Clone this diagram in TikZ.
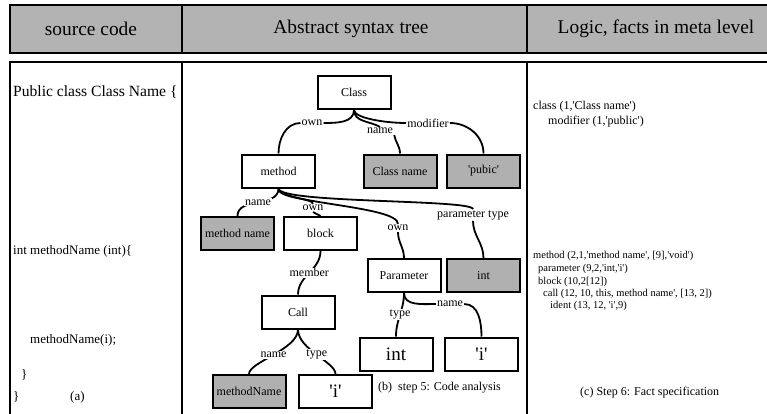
\documentclass[tikz,border=0pt]{standalone}
\usepackage{fontspec}
\setmainfont{Liberation Serif}[Ligatures=TeXOff]
\definecolor{hdrgray}{RGB}{179,179,179}
\definecolor{boxgray}{RGB}{176,176,176}
\begin{document}
\begin{tikzpicture}[x=1pt, y=-1pt,
		frame/.style={draw, line width=2pt},
		tbox/.style={draw, line width=2pt, minimum width=73pt, minimum height=33pt, inner sep=0pt, font=\fontsize{12}{14}\selectfont},
		gbox/.style={tbox, fill=boxgray},
		big/.style={font=\fontsize{19}{22}\selectfont},
		lbl/.style={fill=white, inner sep=1pt, font=\fontsize{12}{14}\selectfont},
		edge/.style={line width=1.8pt},
		head/.style={font=\fontsize{19.4}{23}\selectfont},
		code/.style={anchor=west, inner sep=0pt, font=\fontsize{13}{15}\selectfont},
		fact/.style={anchor=west, inner sep=0pt, font=\fontsize{12}{14}\selectfont},
		small fact/.style={fact, font=\fontsize{10.5}{12}\selectfont}]
		\useasboundingbox (0,0) rectangle (767,413);
		
		% table frame
		\draw[frame, fill=hdrgray] (10,5) rectangle (775,53);
		\draw[frame] (182,5) -- (182,53);
		\draw[frame] (527,5) -- (527,53);
		\draw[frame] (10,420) -- (10,62) -- (775,62);
		\draw[frame] (182,62) -- (182,420);
		\draw[frame] (527,62) -- (527,420);
		
		\node[head] (h1) at (91,29) {source code};
		\node[head] (h2) at (351,29) {Abstract syntax tree};
		\node[head] (h3) at (656,29) {Logic, facts in meta level};
		
		% source code
		\node[code, font=\fontsize{15.6}{18}\selectfont] (c1) at (13,92) {Public class Class Name \{};
		\node[code] (c2) at (13,251) {int methodName (int)\{};
		\node[code] (c3) at (30,340) {methodName(i);};
		\node[code] (c4) at (21,375) {\}};
		\node[code] (c5) at (13,397) {\}};
		\node[code] (ca) at (70,397) {(a)};
		
		% syntax tree
		\node[tbox] (class) at (354,92.5) {Class};
		\node[tbox] (method) at (278.5,171) {method};
		\node[gbox] (cname) at (400,171) {Class name};
		\node[gbox] (pubic) at (483.5,171) {'pubic'};
		\node[gbox] (mname) at (237.5,233.5) {method name};
		\node[tbox] (block) at (320.5,233.5) {block};
		\node[tbox] (param) at (404,275.5) {Parameter};
		\node[gbox] (ptype) at (483.5,275.5) {int};
		\node[tbox] (call) at (298,312) {Call};
		\node[tbox, big] (tint) at (396,354) {int};
		\node[tbox, big] (tid) at (481.5,354) {'i'};
		\node[gbox] (cmname) at (249,391.5) {methodName};
		\node[tbox, big] (cid) at (335.5,391.5) {'i'};
		
		\node[lbl] (own1) at (312,123) {own};
		\node[lbl] (mod1) at (428,123) {modifier};
		\node[lbl] (name1) at (380,131) {name};
		\node[lbl] (own2) at (313,208) {own};
		\node[lbl] (own3) at (398,228) {own};
		\node[lbl] (ptl) at (473,215) {parameter type};
		\node[lbl] (name3) at (450,304) {name};
		
		\draw[edge] (class.south) to[out=-90,in=0] (own1.east);
		\draw[edge] (own1.west) to[out=180,in=90] (method.north);
		\draw[edge] (class.south) to[out=-90,in=180,out distance=8pt] (mod1.west);
		\draw[edge] (mod1.east) to[out=0,in=90] (pubic.north);
		\draw[edge] (class.south) to[out=-90,in=150] (name1.north);
		\draw[edge] (name1.south east) to[out=-80,in=90] (cname.north);
		
		\draw[edge] (method.south) to[out=-90,in=90] node[lbl] {name} (mname.north);
		\draw[edge] (method.south) to[out=-90,in=90,out distance=10pt,in distance=6pt] (own2.north);
		\draw[edge] (own2.south) -- (block.north);
		\draw[edge] (method.south) to[out=-90,in=90,out distance=15pt,in distance=18pt] (own3.north);
		\draw[edge] (own3.south) to[out=-90,in=90] (param.north);
		\draw[edge] (method.south) to[out=-90,in=90,out distance=15pt,in distance=10pt] (ptl.north);
		\draw[edge] (ptl.south) to[out=-90,in=90] (ptype.north);
		
		\draw[edge] (block.south) to[out=-90,in=90] node[lbl] {member} (call.north);
		\draw[edge] (param.south) to[out=-90,in=90] node[lbl] {type} (tint.north);
		\draw[edge] (param.south) to[out=-90,in=180] (name3.west);
		\draw[edge] (name3.east) to[out=0,in=90] (tid.north);
		\draw[edge] (call.south) to[out=-90,in=90,out distance=20pt,in distance=12pt] node[lbl] {name} (cmname.north);
		\draw[edge] (call.south) to[out=-90,in=90,out distance=20pt,in distance=12pt] node[lbl] {type} (cid.north);
		
		\node[fact] (cb) at (378,388) {(b)\ \ step 5: Code analysis};
		
		% facts
		\node[fact] (f1) at (533,107) {class (1,'Class name')};
		\node[fact] (f2) at (548,122) {modifier (1,'public')};
		\node[small fact] (f3) at (533,256) {method (2,1,'method name', [9],'void')};
		\node[small fact] (f4) at (538,269) {parameter (9,2,'int,'i')};
		\node[small fact] (f5) at (538,282) {block (10,2[12])};
		\node[small fact] (f6) at (543,294) {call (12, 10, this, method name', [13, 2])};
		\node[small fact] (f7) at (550,306) {ident (13, 12, 'i',9)};
		\node[fact] (cc) at (580,393) {(c) Step 6: Fact specification};
	\end{tikzpicture}
\end{document}
